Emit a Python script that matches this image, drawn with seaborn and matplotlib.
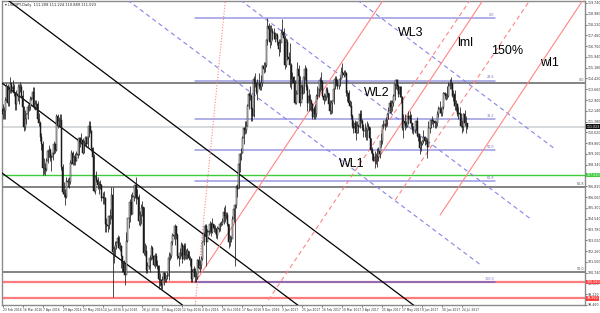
import numpy as np
import pandas as pd
import matplotlib
matplotlib.use("Agg")
import matplotlib.pyplot as plt
import seaborn as sns

# ---------------- data ----------------
first_open = 112.3
closes = [
 # Feb 2016
 111.9, 112.1, 112.9, 113.9, 112.7,
 # Mar 2016
 113.6, 114.0, 113.7, 113.8, 113.4, 112.6, 113.3, 113.2, 113.8, 113.8, 113.2, 112.4, 111.0, 111.6, 111.9, 112.4, 112.4, 113.0, 113.0, 113.5, 112.4, 112.6, 112.6,
 # Apr 2016
 111.6, 111.3, 110.3, 109.8, 108.1, 108.1, 108.0, 108.6, 109.3, 109.4, 108.8, 108.9, 109.2, 109.8, 109.4, 111.8, 111.1, 111.4, 111.5, 108.2, 106.4,
 # May 2016
 106.3, 106.1, 107.2, 107.1, 107.1, 108.5, 109.2, 108.4, 108.9, 108.6, 109.1, 109.0, 110.2, 109.9, 110.1, 109.2, 109.9, 110.2, 109.8, 110.3, 111.1, 110.7,
 # Jun 2016
 109.5, 108.9, 106.5, 107.5, 107.3, 106.9, 107.0, 106.9, 106.0, 106.1, 106.0, 104.2, 104.1, 104.0, 104.7, 104.7, 106.2, 102.2, 102.4, 102.7, 102.8, 103.2,
 # Jul 2016
 102.5, 102.6, 101.9, 101.4, 100.8, 100.6, 103.0, 104.6, 104.6, 105.7, 104.9, 106.1, 106.1, 106.9, 106.0, 106.1, 104.4, 104.8, 105.3, 105.4, 102.1,
 # Aug 2016
 102.3, 100.9, 101.2, 101.2, 101.8, 102.5, 101.9, 101.3, 101.9, 101.3, 101.2, 100.3, 100.2, 99.9, 100.2, 100.7, 100.3, 100.5, 100.5, 101.8, 101.9, 102.9, 103.4,
 # Sep 2016
 103.3, 104.0, 103.4, 101.9, 101.8, 102.1, 102.7, 101.7, 102.6, 102.0, 102.0, 102.3, 101.8, 101.7, 100.3, 100.8, 101.0, 100.4, 100.4, 101.6, 101.1, 101.3,
 # Oct 2016
 101.7, 102.9, 103.5, 104.0, 102.9, 103.6, 103.7, 104.2, 103.6, 104.2, 103.9, 103.8, 103.4, 103.9, 103.8, 104.2, 104.2, 104.3, 105.0, 104.7, 104.8,
 # Nov 2016
 104.2, 102.9, 103.1, 103.1, 104.5, 105.2, 105.5, 106.8, 106.6, 108.4, 109.1, 109.2, 110.2, 110.9, 110.8, 111.1, 112.5, 113.3, 113.2, 112.3, 111.8, 114.4,
 # Dec 2016
 114.0, 113.5, 114.0, 114.0, 113.8, 114.1, 115.3, 115.1, 115.4, 117.1, 118.1, 117.9, 117.0, 117.8, 117.6, 117.6, 117.2, 117.5, 117.0, 116.5, 116.9,
 # Jan 2017
 117.6, 117.7, 117.3, 115.4, 117.0, 115.9, 115.8, 115.4, 114.4, 114.5, 114.1, 112.7, 113.3, 115.1, 114.6, 112.7, 113.8, 113.3, 114.5, 115.1, 113.8, 112.7,
 # Feb 2017
 113.2, 112.8, 112.6, 111.7, 112.3, 111.9, 113.2, 113.2, 113.7, 114.3, 114.2, 113.2, 112.9, 113.1, 113.6, 113.4, 112.6, 112.1, 112.7, 112.8,
 # Mar 2017
 113.7, 114.4, 114.0, 113.9, 113.9, 114.4, 114.9, 114.8, 114.7, 114.8, 113.4, 113.4, 112.7, 112.5, 111.8, 111.1, 110.9, 111.3, 110.6, 111.1, 111.0, 111.9, 111.4,
 # Apr 2017
 110.9, 110.7, 110.7, 110.8, 111.1, 111.0, 110.2, 109.4, 109.1, 108.6, 108.9, 108.9, 108.9, 109.3, 109.1, 110.0, 111.1, 111.1, 111.2, 111.5,
 # May 2017
 111.9, 112.1, 112.7, 112.4, 112.7, 113.2, 114.0, 114.3, 113.9, 113.3, 113.8, 113.1, 110.9, 111.4, 111.3, 111.1, 111.8, 111.6, 111.8, 111.3, 110.8, 110.8, 110.8,
 # Jun 2017
 111.4, 110.4, 110.5, 109.5, 109.8, 110.0, 110.3, 110.0, 110.0, 109.6, 110.9, 110.9, 111.5, 111.4, 111.4, 111.3, 111.3, 111.9, 112.3, 112.3, 112.0, 112.4,
 # Jul 2017
 113.4, 113.3, 113.2, 113.2, 113.9, 114.0, 114.0, 113.2, 113.3, 112.5, 112.6, 111.9, 112.0, 111.9, 111.1, 111.0, 111.9, 111.3, 111.3, 111.02,
]
highs = [
 112.6, 112.4, 113.1, 114.1, 114.0,
 113.9, 114.5, 114.2, 114.3, 114.0, 113.5, 113.6, 114.0, 114.0, 114.2, 114.0, 113.6, 112.5, 112.2, 112.0, 112.6, 112.7, 113.2, 113.1, 113.8, 113.8, 112.9, 112.9,
 112.8, 112.0, 111.4, 110.6, 110.0, 108.8, 108.5, 108.8, 109.4, 109.7, 109.5, 109.0, 109.4, 110.0, 109.9, 111.9, 111.9, 111.7, 111.9, 111.9, 108.4,
 107.1, 106.6, 107.5, 107.4, 107.5, 108.7, 109.4, 109.3, 109.0, 109.2, 109.3, 109.3, 110.3, 110.3, 110.6, 110.2, 110.1, 110.4, 110.4, 110.5, 111.4, 111.4,
 110.8, 109.6, 109.1, 107.6, 107.9, 107.5, 107.2, 107.3, 107.0, 106.4, 106.5, 106.1, 104.6, 104.4, 104.8, 105.2, 106.8, 106.8, 102.6, 103.0, 103.0, 103.4,
 103.3, 102.9, 102.7, 101.9, 101.6, 101.4, 103.6, 104.6, 105.0, 105.9, 106.3, 106.4, 106.5, 107.0, 107.5, 106.6, 106.3, 105.1, 105.6, 105.8, 105.4,
 102.8, 102.7, 101.5, 101.7, 102.0, 102.7, 102.6, 102.0, 102.1, 102.1, 101.6, 101.3, 100.7, 100.3, 100.5, 100.8, 100.8, 100.6, 100.8, 102.2, 102.1, 103.0, 103.5,
 104.0, 104.2, 104.0, 103.5, 102.1, 102.5, 102.9, 102.8, 102.8, 102.8, 102.4, 102.5, 102.3, 101.9, 101.8, 101.0, 101.2, 101.1, 100.8, 101.7, 101.9, 101.6,
 101.9, 103.0, 103.6, 104.2, 104.2, 103.8, 104.0, 104.4, 104.3, 104.6, 104.2, 104.1, 103.9, 104.0, 103.9, 104.3, 104.4, 104.6, 105.4, 105.5, 105.0,
 105.0, 104.2, 103.4, 103.3, 104.7, 105.4, 105.6, 106.9, 107.0, 108.5, 109.2, 109.5, 110.4, 111.0, 111.4, 111.4, 112.6, 113.5, 113.9, 113.3, 112.4, 114.6,
 114.8, 114.2, 114.4, 114.8, 114.2, 114.7, 115.4, 115.6, 115.6, 117.2, 118.66, 118.3, 118.2, 118.2, 118.0, 118.0, 117.7, 117.6, 117.6, 117.2, 117.2,
 117.9, 118.6, 118.0, 117.5, 117.3, 117.2, 116.3, 116.9, 115.5, 114.9, 114.6, 114.3, 113.6, 115.6, 115.4, 114.6, 114.0, 114.0, 114.9, 115.4, 115.2, 114.0,
 113.7, 113.3, 113.0, 112.7, 112.5, 112.6, 113.3, 113.9, 113.8, 114.5, 114.9, 114.3, 113.4, 113.3, 113.8, 113.8, 113.4, 112.9, 112.9, 112.9,
 113.9, 114.6, 114.6, 114.4, 114.2, 114.6, 115.2, 115.5, 115.0, 115.0, 114.9, 113.6, 113.6, 112.9, 112.8, 111.9, 111.5, 111.5, 111.4, 111.4, 111.2, 112.2, 112.2,
 111.6, 111.2, 111.3, 111.0, 111.4, 111.3, 111.0, 110.2, 109.6, 109.2, 109.3, 109.2, 109.5, 109.6, 109.7, 110.6, 111.2, 111.5, 111.5, 111.7,
 112.0, 112.4, 112.9, 112.9, 112.9, 113.3, 114.2, 114.4, 114.4, 114.0, 113.9, 113.9, 113.2, 111.9, 111.9, 111.4, 111.8, 112.1, 112.1, 111.9, 111.3, 111.1, 111.1,
 111.5, 111.7, 110.6, 110.4, 110.0, 110.1, 110.8, 110.4, 110.3, 110.2, 111.4, 111.4, 111.6, 111.8, 111.6, 111.5, 111.4, 112.1, 112.5, 112.8, 112.4, 112.4,
 113.5, 113.5, 113.4, 113.9, 114.2, 114.4, 114.5, 114.2, 113.6, 113.6, 112.9, 112.7, 112.4, 112.4, 112.0, 111.5, 112.0, 112.2, 111.8, 111.22,
]
lows = [
 111.6, 111.6, 111.6, 112.8, 112.5,
 112.5, 113.4, 113.4, 113.5, 113.2, 112.2, 112.2, 112.8, 112.6, 113.5, 113.1, 112.2, 110.7, 110.8, 111.2, 111.6, 112.1, 112.2, 112.9, 112.9, 112.3, 112.2, 112.3,
 111.5, 111.1, 110.0, 109.4, 107.6, 107.7, 107.6, 107.9, 108.5, 108.9, 108.6, 107.9, 108.7, 109.1, 109.2, 109.3, 110.9, 111.0, 111.1, 108.0, 106.3,
 106.1, 105.5, 106.0, 106.8, 106.7, 107.0, 108.4, 108.3, 108.3, 108.3, 108.6, 108.8, 109.0, 109.6, 109.8, 109.1, 109.2, 109.7, 109.6, 109.6, 110.3, 110.6,
 109.3, 108.6, 106.4, 106.3, 107.1, 106.6, 106.3, 106.6, 105.8, 105.6, 105.6, 103.6, 103.6, 103.6, 103.8, 104.2, 104.5, 99.0, 101.4, 101.9, 102.4, 102.6,
 102.4, 102.3, 101.1, 100.8, 100.7, 99.9, 100.9, 102.9, 103.9, 104.3, 104.8, 104.9, 105.8, 106.0, 105.6, 105.9, 104.1, 104.0, 104.2, 104.7, 102.0,
 101.9, 100.7, 100.7, 101.0, 100.8, 101.6, 101.7, 101.2, 101.1, 101.2, 101.0, 99.6, 99.8, 99.6, 99.6, 99.9, 100.1, 100.1, 100.3, 100.2, 101.6, 101.8, 102.7,
 103.1, 102.7, 103.1, 101.7, 101.2, 101.7, 101.9, 101.4, 101.6, 101.7, 101.7, 101.7, 101.6, 101.2, 100.1, 100.1, 100.6, 100.1, 100.1, 100.3, 101.0, 100.8,
 101.0, 101.6, 102.7, 103.3, 101.2, 103.0, 103.4, 103.5, 103.3, 103.5, 103.6, 103.5, 103.2, 103.1, 103.6, 103.7, 104.0, 104.1, 104.2, 104.3, 104.5,
 104.0, 102.5, 102.6, 102.9, 103.2, 104.3, 101.2, 105.3, 106.1, 106.7, 107.8, 108.7, 109.2, 109.8, 110.5, 110.6, 111.1, 112.3, 112.9, 111.4, 111.4, 111.7,
 113.8, 113.3, 112.9, 113.7, 113.6, 113.6, 113.9, 114.8, 114.9, 115.2, 116.8, 117.6, 116.6, 116.8, 117.1, 117.2, 117.0, 117.3, 116.8, 116.0, 116.3,
 117.3, 117.5, 116.9, 115.1, 115.2, 115.7, 115.5, 113.8, 113.7, 114.1, 113.6, 112.6, 112.6, 113.3, 114.2, 112.5, 112.9, 113.0, 113.4, 114.3, 113.6, 112.1,
 112.1, 112.2, 112.1, 111.6, 111.6, 111.6, 111.7, 113.0, 113.1, 113.5, 113.6, 113.1, 112.6, 112.8, 112.9, 113.1, 112.4, 111.9, 111.9, 112.0,
 112.6, 113.7, 113.9, 113.7, 113.7, 113.9, 114.4, 114.6, 114.5, 114.6, 113.2, 112.8, 112.6, 112.4, 111.6, 110.9, 110.6, 110.7, 110.1, 110.6, 110.6, 110.9, 111.3,
 110.8, 110.3, 110.3, 110.1, 110.1, 110.8, 110.1, 109.2, 108.7, 108.6, 108.1, 108.4, 108.2, 108.6, 108.8, 109.6, 109.8, 110.9, 110.8, 111.0,
 111.1, 111.6, 112.0, 112.0, 112.1, 112.5, 112.9, 113.7, 113.6, 113.1, 113.1, 112.7, 110.8, 110.2, 110.8, 110.9, 111.0, 111.2, 111.3, 111.0, 110.6, 110.5, 110.6,
 110.7, 110.3, 110.0, 109.1, 109.3, 109.7, 109.9, 109.7, 109.8, 108.8, 109.8, 110.6, 110.9, 111.2, 111.0, 110.9, 110.9, 111.1, 111.7, 112.0, 111.8, 111.8,
 112.3, 113.0, 112.9, 113.0, 113.1, 113.7, 113.7, 113.1, 112.8, 112.2, 112.1, 111.8, 111.6, 111.5, 111.0, 110.6, 110.7, 111.1, 110.6, 110.89,
]

date_labels = ["23 Feb 2016", "16 Mar 2016", "7 Apr 2016", "29 Apr 2016", "23 May 2016",
               "14 Jun 2016", "6 Jul 2016", "28 Jul 2016", "19 Aug 2016", "12 Sep 2016",
               "4 Oct 2016", "26 Oct 2016", "17 Nov 2016", "9 Dec 2016", "3 Jan 2017",
               "25 Jan 2017", "16 Feb 2017", "10 Mar 2017", "3 Apr 2017", "25 Apr 2017",
               "17 May 2017", "8 Jun 2017", "30 Jun 2017", "24 Jul 2017"]
date_label_step = 16

price_ticks = [98.46, 99.22, 99.98, 100.74, 101.50, 102.26, 103.02, 103.78, 104.54, 105.30,
               106.06, 106.82, 107.58, 108.34, 109.10, 109.86, 110.62, 111.38, 112.14, 112.90,
               113.66, 114.42, 115.18, 115.94, 116.70, 117.46, 118.22, 118.98, 119.74]

# trend lines: (bar0, price0, bar1, price1)
black_lines = [(4, 119.95, 330, 98.39), (-1.6, 114.17, 238.4, 98.32), (-1.6, 107.83, 144, 98.46)]
blue_dashed = [(284, 119.95, 442.4, 109.45), (190.4, 119.95, 424, 104.45), (100, 119.95, 384, 101.21)]
red_lines = [((153.6, 97.9, 178.4, 119.95), "dotted"),
             ((154.4, 100.08, 304.8, 119.95), "solid"),
             ((212.8, 98.81, 374.4, 119.95), "dashed"),
             ((298.4, 108.47, 384.8, 119.95), "solid"),
             ((314.4, 105.86, 422.4, 119.95), "dashed"),
             ((350.4, 104.80, 464.8, 119.95), "solid")]

fib_start, fib_end = 154.4, 394.4
fib_high, fib_low = 118.66, 100.08
fib_levels = [0.0, 23.6, 38.2, 50.0, 61.8, 100.0]

gray_levels = [114.10, 106.78, 100.79]
gray_labels = ["0.0", "61.8", "50.0"]
green_level = 107.62
red_levels = [100.08, 98.95]
current_price = 111.023

annotations = [("WL3", 327, 117.63), ("lml", 370.4, 116.92), ("150%", 404, 116.36),
               ("wl1", 437.6, 115.51), ("WL2", 300, 113.40), ("WL1", 280, 108.40)]

# ---------------- figure ----------------
sns.set_theme(style="white")
plt.rcParams['font.family'] = ['DejaVu Sans']

fig = plt.figure(figsize=(6.0, 3.13), dpi=100)
ax = fig.add_axes([2 / 600, 8 / 313, 583 / 600, 304 / 313])
ax.set_facecolor("white")

n = len(closes)
assert n == len(highs) == len(lows), (n, len(highs), len(lows))
idx = np.arange(n)
c = np.array(closes)
o = np.array([first_open] + closes[:-1])
h = np.array(highs)
l = np.array(lows)

XMAX = (585 - 2) / 1.25
ax.set_xlim(-0.5, XMAX)
ax.set_ylim(98.46, 119.88)

# horizontal levels
for lv in gray_levels:
    ax.axhline(lv, color="#7a7a7a", lw=1.3, zorder=1)
ax.axhline(current_price, color="#cfd4d8", lw=1.2, zorder=1)
ax.axhline(green_level, color="#3ccc3c", lw=1.0, zorder=1)
for lv in red_levels:
    ax.axhline(lv, color="#ff7a7a", lw=1.6, zorder=1)

# fibonacci
for f in fib_levels:
    lv = fib_high - (fib_high - fib_low) * f / 100.0
    col = "#7068c8" if f == 100.0 else "#9a9ae0"
    sns.lineplot(x=[fib_start, fib_end], y=[lv, lv], ax=ax, color=col, lw=1.1, zorder=2)
    ax.text(fib_end - 1, lv + 0.08, f"{f:.1f}", fontsize=2.4, color="#7070c0",
            ha="right", va="bottom", zorder=3)

# trend lines
for (x0, y0, x1, y1) in black_lines:
    sns.lineplot(x=[x0, x1], y=[y0, y1], ax=ax, color="black", lw=0.9, zorder=3)
for (x0, y0, x1, y1) in blue_dashed:
    sns.lineplot(x=[x0, x1], y=[y0, y1], ax=ax, color="#8585e6", lw=0.8,
                 zorder=3).lines[-1].set_dashes([4, 3])
for (x0, y0, x1, y1), st in red_lines:
    ln = sns.lineplot(x=[x0, x1], y=[y0, y1], ax=ax, color="#ff8585", lw=0.8, zorder=3).lines[-1]
    if st == "dashed":
        ln.set_dashes([4, 3])
    elif st == "dotted":
        ln.set_dashes([1, 1.5])

# candles
ax.vlines(idx, l, h, color="#1a1a1a", lw=0.55, zorder=4)
bull = c >= o
bottoms = np.minimum(o, c)
heights = np.maximum(np.abs(c - o), 0.02)
ax.bar(idx[bull], heights[bull], bottom=bottoms[bull], width=0.8, color="white",
       edgecolor="#1a1a1a", linewidth=0.35, zorder=5)
ax.bar(idx[~bull], heights[~bull], bottom=bottoms[~bull], width=0.8, color="#1a1a1a",
       edgecolor="#1a1a1a", linewidth=0.35, zorder=5)

# annotations
for txt, xi, yi in annotations:
    ax.text(xi, yi, txt, fontsize=9, ha="center", va="center", color="black",
            family=["Liberation Sans", "DejaVu Sans"], zorder=6)

ax.text(0.006, 0.992, "\u25BE USDJPY,Daily  111.208 111.224 110.889 111.023",
        transform=ax.transAxes, fontsize=2.6, ha="left", va="top", color="#222")

# gray level labels at right edge
for lv, lab in zip(gray_levels, gray_labels):
    ax.text(XMAX - 1, lv + 0.06, lab, fontsize=2.4, color="#555", ha="right", va="bottom")

# axes styling
for side in ["top", "left", "bottom", "right"]:
    ax.spines[side].set_color("#8a8a8a")
    ax.spines[side].set_linewidth(1.0)
ax.yaxis.tick_right()
ax.set_yticks(price_ticks)
ax.set_yticklabels([f"{p:.3f}" for p in price_ticks])
ax.tick_params(axis="y", labelsize=2.3, length=1.5, width=0.5, pad=0.6, colors="#333",
               right=True, left=False)
ax.set_xticks([i * date_label_step for i in range(len(date_labels))])
ax.set_xticklabels(date_labels, ha="left")
ax.tick_params(axis="x", labelsize=2.2, length=1.5, width=0.5, pad=1, colors="#333",
               bottom=True)
ax.grid(False)

# price boxes on axis
ytr = ax.get_yaxis_transform()
def price_box(val, txt, fc, tc):
    ax.text(1.003, val, txt, transform=ytr, fontsize=2.3, color=tc, ha="left", va="center",
            bbox=dict(boxstyle="square,pad=0.15", fc=fc, ec="none"), clip_on=False, zorder=10)

price_box(current_price, "111.023", "#111111", "white")
price_box(green_level, "107.620", "#3ccc3c", "white")
price_box(red_levels[0], "100.080", "#ff4040", "white")
price_box(red_levels[1], "98.950", "#ff4040", "white")

fig.savefig("out.png", dpi=100)
